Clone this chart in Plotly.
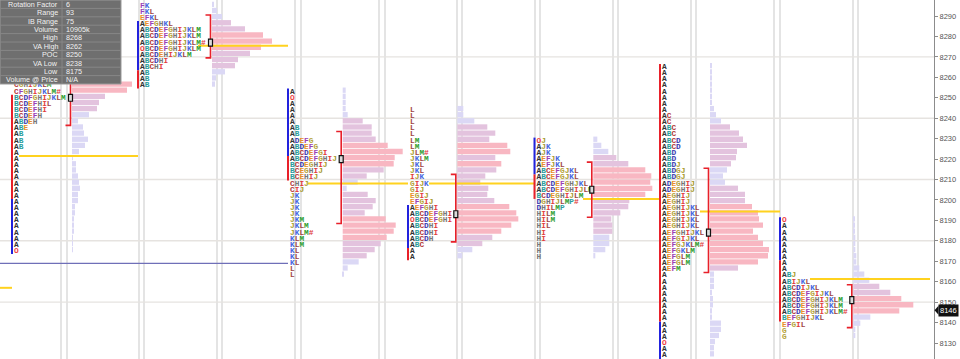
import plotly.graph_objects as go

# ---------------- data ----------------
ROW = 3  # price points per TPO row

stat_labels = ["Rotation Factor", "Range", "IB Range", "Volume", "High", "VA High",
               "POC", "VA Low", "Low", "Volume @ Price"]
stat_values = ["6", "93", "75", "10905k", "8268", "8262", "8250", "8238", "8175", "N/A"]

p1_top = 8268
p1_tpo = ["JK", "IJKL", "HIJKLM", "GHIJKLM", "CGHIJKLM", "CFGHIJKLM#", "BCDFGHIJKLM",
          "BCDEFHIL", "BCDEFHI", "BCDEFH", "ABDEH", "ABE", "AB", "AB", "AB"] + ["A"] * 16 + ["O"]
p1_vol = [6, 18, 32, 44, 60, 55, 33, 27, 25, 17, 6, 11, 12, 16, 13, 7, 1, 4, 4, 6, 7, 8,
          6, 6, 3, 3, 2, 2, 2, 1, 1, 1]
p1_va = (8262, 8238)
p1_poc = 8250
p1_ib = (8251.5, 8200.5, 8173.5)

p2_top = 8295
p2_tpo = ["FK", "FKL", "EFKL", "AEFGHKL", "ABCDEFGHIJKLM", "ABCDEFGHIJKLM", "ABCDEFGHIJKLM#",
          "OBCDEFGHIJKLM", "ABCDEHIJKLM", "ABCDHI", "ABCHI", "AB", "AB", "AB"]
p2_vol = [2, 5, 10, 19, 33, 51, 60, 49, 38, 26, 23, 13, 4, 3]
p2_va = (8289, 8271)
p2_poc = 8277
p2_ib = (8287.5, 8263.5, 8254.5)

p3_top = 8253
p3_tpo = ["A", "O", "A", "A", "A", "A", "AB", "AB", "ADEFG", "ABDEFG", "ABCDEFGI", "ABCDEFGHIJ",
          "BCDEGHIJ", "BCEGHIJ", "BCEHIJ", "CHIJ", "CIJ", "JK", "JK", "JK", "JK", "JKM", "JKLM",
          "JKLM#", "KLM", "KLM", "KL", "KL", "KL", "L", "L"]
p3_vol = [3, 3, 3, 3, 5, 20, 29, 29, 33, 45, 60, 52, 51, 41, 24, 15, 4, 25, 33, 30, 22, 43,
          53, 51, 44, 38, 32, 24, 16, 5, 1]
p3_va = (8232, 8190)
p3_poc = 8220
p3_ib = (8254.5, 8221.5, 8209.5)

p4_top = 8244
p4_tpo = ["L", "L", "L", "L", "L", "LM", "LM", "JLM#", "JKLM", "JKL", "JKL", "IJK", "GIJK",
          "GIJ", "EGIJ", "EFGIJ", "AEFGHI", "ABCDEFGHI", "OBCDEFGHI", "ABCDHI", "ABCDHI",
          "ABCDH", "ABC", "A", "A"]
p4_vol = [6, 6, 17, 30, 38, 32, 50, 53, 38, 44, 39, 28, 23, 31, 30, 37, 52, 59, 61, 54, 44,
          35, 25, 15, 5]
p4_va = (8211, 8181)
p4_poc = 8193
p4_ib = (8197.5, 8176.5, 8170.5)

p5_top = 8229
p5_tpo = ["OJ", "AJK", "AJK", "AEFJK", "AEFJKL", "ABCEFGJKL", "ABCEFGJKL", "ABCDEFGHJKL",
          "ABCDEFGHIJLM", "BCDEGHIJLM", "DGHIJLMP#", "DHILMP", "HILM", "HILM", "HIL", "HI",
          "HI", "H", "H", "H"]
p5_vol = [4, 8, 15, 23, 35, 52, 58, 57, 59, 52, 36, 35, 27, 18, 19, 19, 16, 16, 12, 2]
p5_va = (8217, 8193)
p5_poc = 8205
p5_ib = (8230.5, 8212.5, 8200.5)

p6_top = 8265
p6_tpo = (["A"] * 8 + ["AC", "AC", "ABC", "ABC", "ABCD", "ABCD", "ABD", "ABD", "ABDJ", "ABDGJ",
           "ABDGJ", "ADEGHIJ", "ADEGHIJ", "AEGHIJ", "AEGHIJ", "AEGHIJKL", "AEGHIJKL",
           "AEGHIJKL", "AEGHIJKL", "AEFGHIJKL", "AEFGIJKL", "AEFGJKLM#", "AEFGKLM", "AEFGLM",
           "AEFGLM", "AEFM"] + ["A"] * 11 + ["O", "A", "A"])
p6_vol = [2, 2, 2, 2, 2, 2, 2, 4, 6, 11, 20, 29, 33, 37, 27, 26, 21, 17, 13, 15, 28, 35, 35,
          42, 48, 49, 53, 43, 48, 53, 59, 58, 48, 28, 4, 4, 4, 2, 3, 3, 2, 2, 11, 11, 9, 5, 4, 4]
p6_va = (8214, 8166)
p6_poc = 8184
p6_ib = (8266.5, 8140.5, 8122.0)

p7_top = 8190
p7_tpo = ["O"] + ["A"] * 8 + ["ABJ", "ABIJKL", "ABCDIJKL", "ABCDEFGIJKL", "ABCDEFGHIJKLM",
                              "ABCDEFGHIJKLM", "ABCDEFGHIJKLM#", "BEFGHIJKL", "EFGIL", "G", "G"]
p7_vol = [1, 1, 1, 2, 2, 2, 3, 3, 6, 11, 16, 26, 37, 48, 60, 46, 17, 7, 2, 2]
p7_va = (8157, 8139)
p7_poc = 8151
p7_ib = (8191.5, 8170.5, 8140.5)

yellow_levels = [8157, 8221.5, 8275.5, 8208, 8208, 8200.5, 8194.3, 8161.3]
naked_level = 8169
last_price = 8146

# ---------------- layout positions / styles ----------------
W, H = 960, 359
PLOT_W = 934
Y_RANGE = [8122.17, 8297.83]

LETTER_X = [14, 140, 290, 410, 536.5, 662, 782]
HIST_X = [72, 212, 342.7, 457.3, 593.3, 710, 853.3]
IB_UPPER_BLUE = [False, True, True, True, True, False, True]
YELLOW_X = [(0, 12), (19, 138), (198, 288), (308, 408), (429, 534), (583, 660), (700, 780), (810, 930)]
NAKED_X = (0, 288)
VGRID_X = [61, 67, 139, 144, 217, 222, 295, 301, 379, 385, 457, 462, 535, 540, 613, 618,
           691, 696, 774, 780, 853, 858]
HGRID = [8150, 8180, 8210, 8240, 8270]

LETTER_COLORS = {
    "A": "#333333", "B": "#2a9d9d", "C": "#b53a3a", "D": "#3b3bb0", "E": "#e8902a",
    "F": "#9b3fb5", "G": "#b5a33a", "H": "#777777", "I": "#e23b3b", "J": "#a69a2a",
    "K": "#4466e0", "L": "#a14545", "M": "#2e9e2e", "O": "#ee4444", "P": "#2e9e9e",
    "#": "#e03a3a",
}
RED = "#e8202a"
BLUE = "#2222dd"
YELLOW = "#ffd21f"

profiles = [
    (p1_top, p1_tpo, p1_vol, p1_va, p1_poc, p1_ib),
    (p2_top, p2_tpo, p2_vol, p2_va, p2_poc, p2_ib),
    (p3_top, p3_tpo, p3_vol, p3_va, p3_poc, p3_ib),
    (p4_top, p4_tpo, p4_vol, p4_va, p4_poc, p4_ib),
    (p5_top, p5_tpo, p5_vol, p5_va, p5_poc, p5_ib),
    (p6_top, p6_tpo, p6_vol, p6_va, p6_poc, p6_ib),
    (p7_top, p7_tpo, p7_vol, p7_va, p7_poc, p7_ib),
]


def tpo_html(s):
    return "".join('<span style="color:%s">%s</span>' % (LETTER_COLORS.get(c, "#333"), c) for c in s)


def bar_color(v, vmax):
    t = v / vmax
    if t >= 0.7:
        return "#f8b7c2"
    if t >= 0.3:
        return "#e3c3de"
    return "#dbd8f5"


fig = go.Figure()
shapes = []
annotations = []

# grid lines
for gx in VGRID_X:
    shapes.append(dict(type="line", xref="x", yref="paper", x0=gx, x1=gx, y0=0, y1=1,
                       line=dict(color="#dedede", width=1.6), layer="below"))
for gy in HGRID:
    shapes.append(dict(type="line", xref="x", yref="y", x0=0, x1=PLOT_W, y0=gy, y1=gy,
                       line=dict(color="#e6e3e0", width=1.4), layer="below"))

# histograms
for i, (top, tpo, vol, va, poc, ib) in enumerate(profiles):
    prices = [top - ROW * k for k in range(len(vol))]
    vmax = max(vol)
    fig.add_trace(go.Bar(
        orientation="h", y=[p + 0.7 for p in prices], x=vol, base=HIST_X[i], width=2.6,
        marker=dict(color=[bar_color(v, vmax) for v in vol], line=dict(width=0)),
        hoverinfo="skip", showlegend=False))

# yellow & naked lines
yx, yy = [], []
for (x0, x1), lv in zip(YELLOW_X, yellow_levels):
    yx += [x0, x1, None]
    yy += [lv, lv, None]
fig.add_trace(go.Scatter(x=yx, y=yy, mode="lines", line=dict(color=YELLOW, width=2),
                         hoverinfo="skip", showlegend=False))
fig.add_trace(go.Scatter(x=list(NAKED_X), y=[naked_level, naked_level], mode="lines",
                         line=dict(color="#6f6fb8", width=1.3), hoverinfo="skip", showlegend=False))

# IB bars
bx_, by_, rx_, ry_ = [], [], [], []
for i, (top, tpo, vol, va, poc, ib) in enumerate(profiles):
    xb = LETTER_X[i] - 2
    up = ([xb, xb, None], [ib[0], ib[1], None])
    lo = ([xb, xb, None], [ib[1], ib[2], None])
    if IB_UPPER_BLUE[i]:
        bx_ += up[0]; by_ += up[1]; rx_ += lo[0]; ry_ += lo[1]
    else:
        rx_ += up[0]; ry_ += up[1]; bx_ += lo[0]; by_ += lo[1]
fig.add_trace(go.Scatter(x=bx_, y=by_, mode="lines", line=dict(color=BLUE, width=2),
                         hoverinfo="skip", showlegend=False))
fig.add_trace(go.Scatter(x=rx_, y=ry_, mode="lines", line=dict(color=RED, width=2),
                         hoverinfo="skip", showlegend=False))

# value-area brackets
vx, vy = [], []
for i, (top, tpo, vol, va, poc, ib) in enumerate(profiles):
    xb = HIST_X[i] - 1.5
    hi, lo = va[0] + ROW / 2, va[1] - ROW / 2
    vx += [xb - 5, xb, xb, xb - 5, None]
    vy += [hi, hi, lo, lo, None]
    shapes.append(dict(type="rect", xref="x", yref="y", x0=xb - 2, x1=xb + 2,
                       y0=poc - 1.7, y1=poc + 1.7, line=dict(color="#111", width=1.2),
                       fillcolor="#dcdcdc", layer="above"))
fig.add_trace(go.Scatter(x=vx, y=vy, mode="lines", line=dict(color=RED, width=1.6),
                         hoverinfo="skip", showlegend=False))

# TPO letters
tx, ty, tt = [], [], []
for i, (top, tpo, vol, va, poc, ib) in enumerate(profiles):
    for k, s in enumerate(tpo):
        tx.append(LETTER_X[i])
        ty.append(top - ROW * k)
        tt.append(tpo_html(s))
fig.add_trace(go.Scatter(x=tx, y=ty, text=tt, mode="text", textposition="middle right",
                         marker=dict(size=0),
                         textfont=dict(family="Liberation Mono", size=7.8, weight="bold"),
                         hoverinfo="skip", showlegend=False))

# stats box
row_h = 8.4
box_h = row_h * len(stat_labels)
def yp(py):
    return 1 - py / H
shapes.append(dict(type="rect", xref="x", yref="paper", x0=0, x1=121, y0=yp(box_h), y1=1,
                   fillcolor="#6f6f6f", line=dict(color="#9a9a9a", width=1), layer="above"))
for r in range(1, len(stat_labels)):
    shapes.append(dict(type="line", xref="x", yref="paper", x0=0, x1=121,
                       y0=yp(r * row_h), y1=yp(r * row_h),
                       line=dict(color="#878787", width=1), layer="above"))
shapes.append(dict(type="line", xref="x", yref="paper", x0=62, x1=62, y0=yp(box_h), y1=1,
                   line=dict(color="#878787", width=1), layer="above"))
for r, (lab, val) in enumerate(zip(stat_labels, stat_values)):
    yc = yp(r * row_h + row_h / 2)
    annotations.append(dict(xref="x", yref="paper", x=60, y=yc, text=lab, showarrow=False,
                            xanchor="right", yanchor="middle",
                            font=dict(family="Liberation Sans", size=7.2, color="#f2f2f2")))
    annotations.append(dict(xref="x", yref="paper", x=64, y=yc, text=val, showarrow=False,
                            xanchor="left", yanchor="middle",
                            font=dict(family="Liberation Sans", size=7.2, color="#f2f2f2")))

# last price tag
annotations.append(dict(xref="paper", yref="y", x=1, y=last_price, text=str(last_price),
                        showarrow=False, xanchor="left", yanchor="middle", xshift=4,
                        bgcolor="#111111", borderpad=1,
                        font=dict(family="Liberation Sans", size=7.5, color="#ffffff")))
px0 = 934.5 / PLOT_W
px1 = 938.5 / PLOT_W
shapes.append(dict(type="path", xref="paper", yref="y",
                   path="M %f,%f L %f,%f L %f,%f Z" % (px0, last_price, px1, last_price + 2.2,
                                                       px1, last_price - 2.2),
                   fillcolor="#111111", line=dict(width=0), layer="above"))

fig.update_layout(
    width=W, height=H, margin=dict(l=0, r=W - PLOT_W, t=0, b=0),
    paper_bgcolor="white", plot_bgcolor="white",
    barmode="overlay", showlegend=False, hovermode=False,
    xaxis=dict(range=[0, PLOT_W], visible=False, fixedrange=True),
    yaxis=dict(side="right", range=Y_RANGE, tick0=8130, dtick=10, showgrid=False,
               zeroline=False, showline=True, linecolor="#8c8c8c", linewidth=1,
               ticks="outside", ticklen=3, tickcolor="#8c8c8c",
               tickfont=dict(family="Liberation Sans", size=7.5, color="#555555"),
               fixedrange=True),
    shapes=shapes, annotations=annotations,
)

fig.write_html("out.html")
